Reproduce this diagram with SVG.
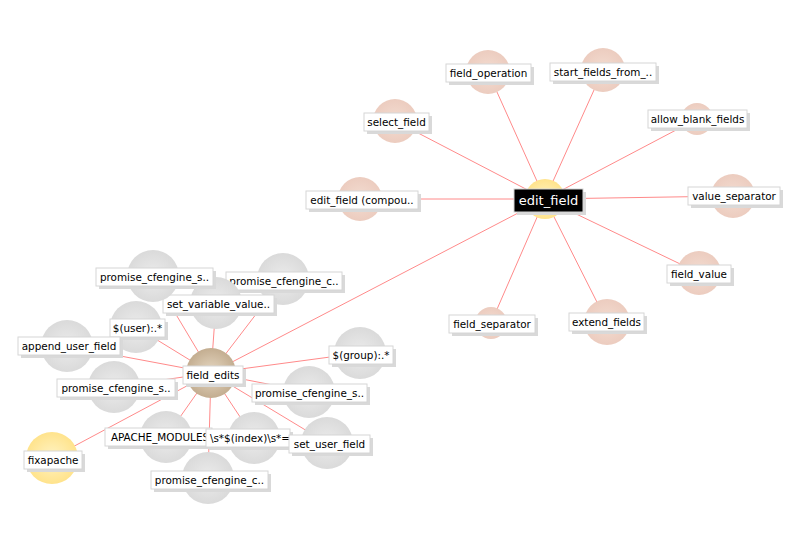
<svg xmlns="http://www.w3.org/2000/svg" width="800" height="550" viewBox="0 0 800 550">
<style>
.lbl{font-family:"DejaVu Sans",sans-serif;font-size:10.4px;fill:#000;text-anchor:middle}
.lblw{font-family:"DejaVu Sans",sans-serif;font-size:13px;fill:#fff;text-anchor:middle}
.box{fill:#fff;stroke:#d6d6d6;stroke-width:1}
.boxb{fill:#000;stroke:#d6d6d6;stroke-width:1}
.sh{fill:#d9d9d9}
.pink{fill:url(#gPink)}
.gray{fill:url(#gGray)}
.tan{fill:url(#gTan)}
.yel{fill:url(#gYel)}
#edges line{stroke:#ff8a8a;stroke-width:1}
</style>
<defs>
<radialGradient id="gPink" cx="50%" cy="50%" r="50%"><stop offset="0" stop-color="#f3ddd2"/><stop offset="1" stop-color="#ecccbf"/></radialGradient>
<radialGradient id="gGray" cx="50%" cy="50%" r="50%"><stop offset="0" stop-color="#ececec"/><stop offset="1" stop-color="#dadada"/></radialGradient>
<radialGradient id="gTan" cx="50%" cy="50%" r="50%"><stop offset="0" stop-color="#e7d9c4"/><stop offset="1" stop-color="#c3ad90"/></radialGradient>
<radialGradient id="gYel" cx="50%" cy="50%" r="50%"><stop offset="0" stop-color="#fff4c6"/><stop offset="1" stop-color="#ffe38c"/></radialGradient>
</defs>
<rect width="800" height="550" fill="#fff"/>
<g id="edges">
<line x1="545" y1="199" x2="488" y2="72"/>
<line x1="545" y1="199" x2="603" y2="70"/>
<line x1="545" y1="199" x2="395" y2="121"/>
<line x1="545" y1="199" x2="697" y2="119"/>
<line x1="545" y1="199" x2="360" y2="199"/>
<line x1="545" y1="199" x2="733" y2="196"/>
<line x1="545" y1="199" x2="699" y2="273"/>
<line x1="545" y1="199" x2="491" y2="323"/>
<line x1="545" y1="199" x2="607" y2="322"/>
<line x1="545" y1="199" x2="211" y2="373"/>
<line x1="211" y1="373" x2="153" y2="276"/>
<line x1="211" y1="373" x2="283" y2="279"/>
<line x1="211" y1="373" x2="216" y2="303"/>
<line x1="211" y1="373" x2="136" y2="327"/>
<line x1="211" y1="373" x2="67" y2="346"/>
<line x1="211" y1="373" x2="360" y2="353"/>
<line x1="211" y1="373" x2="114" y2="387"/>
<line x1="211" y1="373" x2="309" y2="392"/>
<line x1="211" y1="373" x2="166" y2="437"/>
<line x1="211" y1="373" x2="254" y2="438"/>
<line x1="211" y1="373" x2="327" y2="443"/>
<line x1="211" y1="373" x2="208" y2="478"/>
<line x1="211" y1="373" x2="52" y2="458"/>
</g>
<g id="n-field_operation"><circle class="pink" cx="488" cy="72" r="22"/><rect class="sh" x="449" y="67" width="85" height="18"/><rect class="box" x="446" y="64" width="85" height="18"/><text class="lbl" x="488.5" y="77">field_operation</text></g>
<g id="n-start_fields"><circle class="pink" cx="603" cy="70" r="22"/><rect class="sh" x="553" y="66" width="106" height="18"/><rect class="box" x="550" y="63" width="106" height="18"/><text class="lbl" x="603" y="76">start_fields_from_..</text></g>
<g id="n-select_field"><circle class="pink" cx="395" cy="121" r="22"/><rect class="sh" x="367" y="116" width="65" height="18"/><rect class="box" x="364" y="113" width="65" height="18"/><text class="lbl" x="396.5" y="126">select_field</text></g>
<g id="n-allow_blank_fields"><circle class="pink" cx="697" cy="119" r="16"/><rect class="sh" x="651" y="113" width="99" height="18"/><rect class="box" x="648" y="110" width="99" height="18"/><text class="lbl" x="697.5" y="123">allow_blank_fields</text></g>
<g id="n-edit_field_compound"><circle class="pink" cx="360" cy="199" r="22"/><rect class="sh" x="309" y="194" width="112" height="18"/><rect class="box" x="306" y="191" width="112" height="18"/><text class="lbl" x="362" y="204">edit_field (compou..</text></g>
<g id="n-value_separator"><circle class="pink" cx="733" cy="196" r="22"/><rect class="sh" x="691" y="190" width="92" height="18"/><rect class="box" x="688" y="187" width="92" height="18"/><text class="lbl" x="734" y="200">value_separator</text></g>
<g id="n-field_value"><circle class="pink" cx="699" cy="273" r="22"/><rect class="sh" x="670" y="268" width="64" height="18"/><rect class="box" x="667" y="265" width="64" height="18"/><text class="lbl" x="699" y="278">field_value</text></g>
<g id="n-field_separator"><circle class="pink" cx="491" cy="323" r="16"/><rect class="sh" x="452" y="318" width="86" height="18"/><rect class="box" x="449" y="315" width="86" height="18"/><text class="lbl" x="492" y="328">field_separator</text></g>
<g id="n-extend_fields"><circle class="pink" cx="607" cy="322" r="23"/><rect class="sh" x="572" y="316" width="75" height="18"/><rect class="box" x="569" y="313" width="75" height="18"/><text class="lbl" x="606.5" y="326">extend_fields</text></g>
<g id="n-edit_field"><circle class="yel" cx="545" cy="199" r="20"/><rect class="sh" x="517" y="192" width="69" height="23"/><rect class="boxb" x="514" y="189" width="69" height="23"/><text class="lblw" x="548.5" y="205">edit_field</text></g>
<g id="n-pcc1"><circle class="gray" cx="283" cy="279" r="26"/><rect class="sh" x="229" y="275" width="116" height="18"/><rect class="box" x="226" y="272" width="116" height="18"/><text class="lbl" x="284" y="285">promise_cfengine_c..</text></g>
<g id="n-set_variable_value"><circle class="gray" cx="216" cy="303" r="26"/><rect class="sh" x="166" y="298" width="111" height="18"/><rect class="box" x="163" y="295" width="111" height="18"/><text class="lbl" x="218.5" y="308">set_variable_value..</text></g>
<g id="n-pcs1"><circle class="gray" cx="153" cy="276" r="26"/><rect class="sh" x="99" y="271" width="117" height="18"/><rect class="box" x="96" y="268" width="117" height="18"/><text class="lbl" x="154.5" y="281">promise_cfengine_s..</text></g>
<g id="n-user"><circle class="gray" cx="136" cy="327" r="26"/><rect class="sh" x="113" y="322" width="55" height="18"/><rect class="box" x="110" y="319" width="55" height="18"/><text class="lbl" x="137.5" y="332">$(user):.*</text></g>
<g id="n-append_user_field"><circle class="gray" cx="67" cy="346" r="26"/><rect class="sh" x="21" y="340" width="102" height="18"/><rect class="box" x="18" y="337" width="102" height="18"/><text class="lbl" x="69" y="350">append_user_field</text></g>
<g id="n-group"><circle class="gray" cx="360" cy="353" r="26"/><rect class="sh" x="332" y="349" width="64" height="18"/><rect class="box" x="329" y="346" width="64" height="18"/><text class="lbl" x="361" y="359">$(group):.*</text></g>
<g id="n-pcs2"><circle class="gray" cx="114" cy="387" r="26"/><rect class="sh" x="60" y="382" width="118" height="18"/><rect class="box" x="57" y="379" width="118" height="18"/><text class="lbl" x="116" y="392">promise_cfengine_s..</text></g>
<g id="n-pcs3"><circle class="gray" cx="309" cy="392" r="26"/><rect class="sh" x="255" y="387" width="115" height="18"/><rect class="box" x="252" y="384" width="115" height="18"/><text class="lbl" x="309.5" y="397">promise_cfengine_s..</text></g>
<g id="n-field_edits"><circle class="tan" cx="211" cy="373" r="25"/><rect class="sh" x="186" y="369" width="60" height="18"/><rect class="box" x="183" y="366" width="60" height="18"/><text class="lbl" x="213" y="379">field_edits</text></g>
<g id="n-pcc2"><circle class="gray" cx="208" cy="478" r="26"/><rect class="sh" x="154" y="474" width="117" height="18"/><rect class="box" x="151" y="471" width="117" height="18"/><text class="lbl" x="209.5" y="484">promise_cfengine_c..</text></g>
<g id="n-apache"><circle class="gray" cx="166" cy="437" r="26"/><rect class="sh" x="108" y="431" width="107" height="18"/><rect class="box" x="105" y="428" width="107" height="18"/><text class="lbl" x="160" y="441">APACHE_MODULES</text></g>
<g id="n-index"><circle class="gray" cx="254" cy="438" r="26"/><rect class="sh" x="209" y="432" width="84" height="18"/><rect class="box" x="206" y="429" width="84" height="18"/><text class="lbl" x="250" y="442">\s*$(index)\s*=</text></g>
<g id="n-set_user_field"><circle class="gray" cx="327" cy="443" r="26"/><rect class="sh" x="292" y="438" width="81" height="18"/><rect class="box" x="289" y="435" width="81" height="18"/><text class="lbl" x="329.5" y="448">set_user_field</text></g>
<g id="n-fixapache"><circle class="yel" cx="52" cy="458" r="26"/><rect class="sh" x="27" y="454" width="58" height="18"/><rect class="box" x="24" y="451" width="58" height="18"/><text class="lbl" x="53" y="464">fixapache</text></g>
</svg>
